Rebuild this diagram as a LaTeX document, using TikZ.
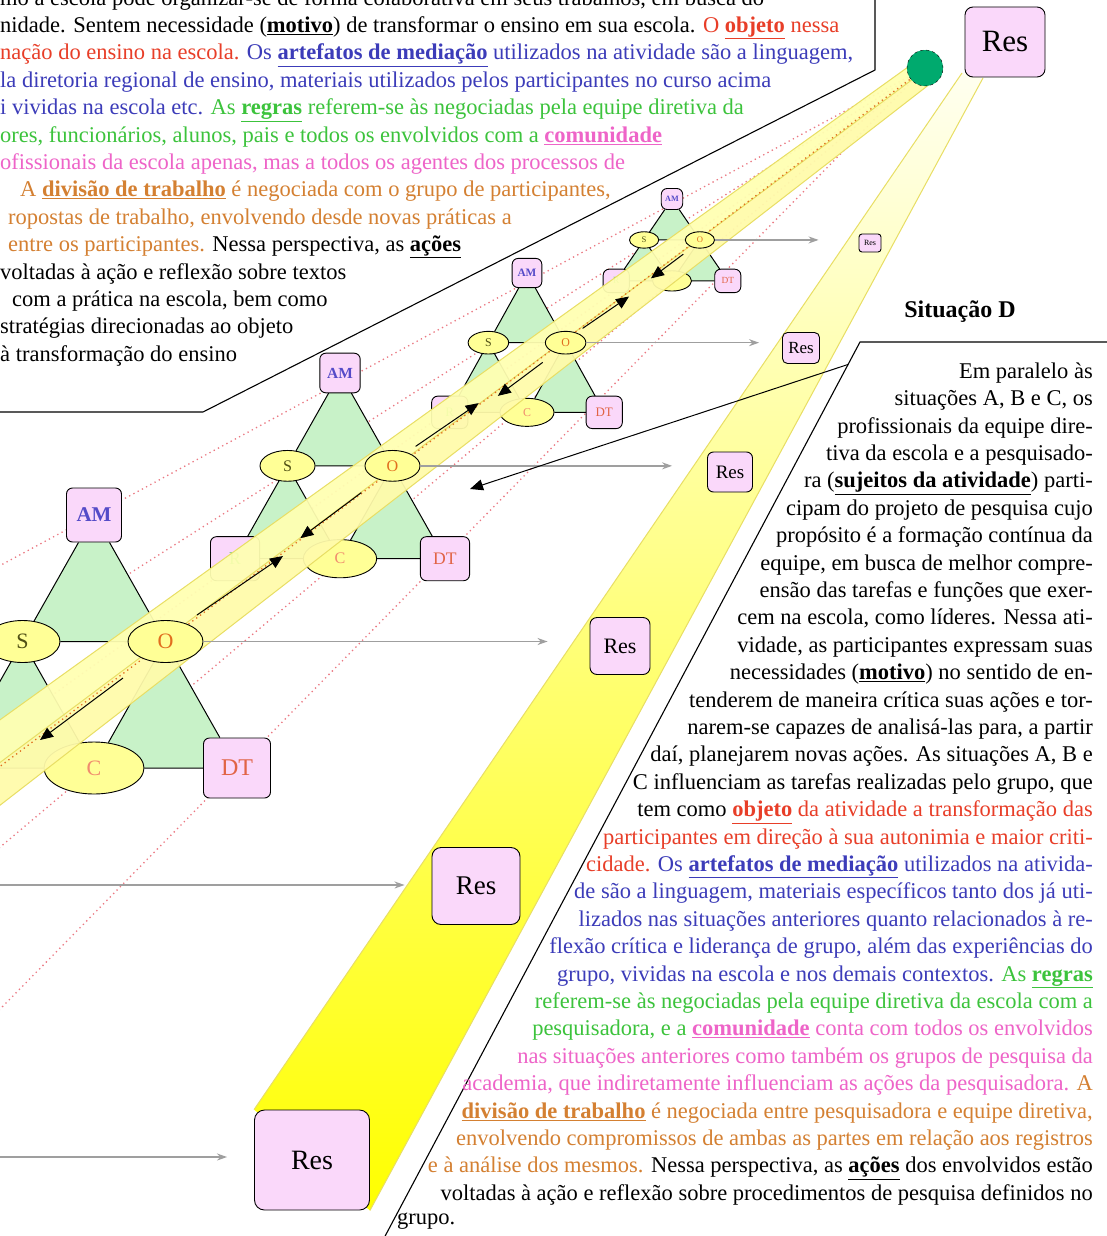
\documentclass[tikz,border=0pt]{standalone}
\usepackage{fontspec}
\setmainfont{Liberation Serif}
\usetikzlibrary{calc,positioning,arrows.meta,shapes.geometric}

\definecolor{resfill}{RGB}{250,216,250}
\definecolor{ovalfill}{RGB}{255,255,150}
\definecolor{triangfill}{RGB}{200,242,200}
\definecolor{beamfill}{RGB}{255,255,178}
\definecolor{beamedge}{RGB}{232,222,100}
\definecolor{eyefill}{RGB}{0,170,110}
\definecolor{perspred}{RGB}{235,120,130}
\definecolor{txtred}{RGB}{232,62,40}
\definecolor{txtblue}{RGB}{60,60,185}
\definecolor{txtgreen}{RGB}{60,195,60}
\definecolor{txtpink}{RGB}{238,100,200}
\definecolor{txtorange}{RGB}{212,128,50}
\definecolor{amblue}{RGB}{85,75,200}
\definecolor{sdark}{RGB}{80,80,20}
\definecolor{oorange}{RGB}{225,110,30}
\definecolor{csalmon}{RGB}{240,140,110}
\definecolor{dtred}{RGB}{225,100,70}

\pgfdeclarelayer{back}
\pgfdeclarelayer{fillz}
\pgfdeclarelayer{lines}
\pgfdeclarelayer{beam}
\pgfdeclarelayer{front}
\pgfsetlayers{back,fillz,lines,main,beam,front}

\newcommand{\kw}[1]{\underline{\textbf{#1}}}
\newcommand{\fsz}[2]{\fontsize{#1}{#2}\selectfont}

\begin{document}
\begin{tikzpicture}[x=1pt,y=-1pt,>=Latex]
\tikzset{
  txt/.style={inner sep=0pt, font={\fsz{22.5}{27.4}}},
  resbox/.style={draw, fill=resfill, line width=0.9pt, inner sep=0pt, rounded corners=#1},
  resbox/.default=7pt,
  amcell/.style={draw, fill=resfill, line width=0.9pt, rounded corners=6pt, minimum width=55pt, minimum height=54pt, inner sep=0pt, text=amblue, font={\fsz{21}{21}\bfseries}},
  cornercell/.style={draw, fill=resfill, line width=0.9pt, rounded corners=6pt, minimum width=67pt, minimum height=60pt, inner sep=0pt, font={\fsz{24}{24}}},
  oval/.style={ellipse, draw, fill=ovalfill, line width=0.9pt, minimum width=75pt, minimum height=42pt, inner sep=0pt, font={\fsz{22}{22}}},
  link/.style={line width=1pt},
  persp/.style={perspred, line width=1.3pt, dash pattern=on 1.3pt off 3.5pt},
  flow/.style={line width=1pt, -{Triangle[length=13pt,width=11pt]}},
  resarrow/.style={gray!75, line width=1.3pt, -{Stealth[length=10pt,width=7pt]}},
  boxline/.style={line width=1.1pt},
  beamside/.style={beamedge, line width=1pt}
}
\useasboundingbox (0,0) rectangle (1106,1236);

% results along the long beam
\node[resbox=8pt, minimum width=80pt, minimum height=70pt, font={\fsz{31}{31}}] (ResTop) at (1005,42) {Res};
\node[resbox=3pt, minimum width=22pt, minimum height=18pt, font={\fsz{8}{8}}] (Res4) at (870,243) {Res};
\node[resbox=5pt, minimum width=37pt, minimum height=31pt, font={\fsz{17}{17}}] (Res3) at (801,348) {Res};
\node[resbox=6pt, minimum width=45pt, minimum height=40pt, font={\fsz{19}{19}}] (Res2) at (730,472) {Res};
\node[resbox, minimum width=60pt, minimum height=57pt, font={\fsz{22}{22}}] (Res1) at (620,646) {Res};
\node[resbox=9pt, minimum width=88pt, minimum height=77pt, font={\fsz{27}{27}}] (Res0) at (476,886) {Res};
\node[resbox=10pt, minimum width=115pt, minimum height=100pt, font={\fsz{28}{28}}] (ResB) at (312,1160) {Res};

\begin{pgfonlayer}{front}
  \node[circle, draw, dashed, fill=eyefill, minimum size=36pt, inner sep=0pt] (eye) at (925,68) {};
\end{pgfonlayer}

% the activity systems, smaller as they go back
\foreach \n/\x/\y/\s/\k in {1/94/515/1/1, 2/340/373/0.734/1, 3/527/273/0.54/1.02, 4/672/199/0.39/0.83}{
  \begin{scope}[shift={(\x,\y)}, scale=\s, transform shape]
    \node[amcell] (AM\n) at (0,0) {AM};
    \node[oval, text=sdark] (S\n) at (-71.5,126.5*\k) {S};
    \node[cornercell, text=txtgreen] (R\n) at (-143,253*\k) {R};
    \node[oval, minimum width=100pt, minimum height=52pt, text=csalmon] (C\n) at (0,253*\k) {C};
    \node[cornercell, text=dtred] (DT\n) at (143,253*\k) {DT};
    \begin{pgfonlayer}{front}
      \node[oval, text=oorange] (O\n) at (71.5,126.5*\k) {O};
    \end{pgfonlayer}
    \coordinate (ua\n) at (103,126.5*\k-26.5);
    \coordinate (ub\n) at (189,126.5*\k-85.5);
    \coordinate (da\n) at (29,126.5*\k+36.5);
    \coordinate (db\n) at (-54,126.5*\k+98.5);
  \end{scope}
  \begin{pgfonlayer}{fillz}
    \fill[triangfill] (AM\n.center) -- (S\n.center) -- (O\n.center) -- cycle
      (S\n.center) -- (R\n.center) -- (C\n.center) -- cycle
      (O\n.center) -- (C\n.center) -- (DT\n.center) -- cycle;
  \end{pgfonlayer}
  \begin{pgfonlayer}{lines}
    \draw[link] (AM\n) -- (S\n) -- (O\n) -- (AM\n)
      (S\n) -- (R\n) -- (C\n) -- (S\n)
      (O\n) -- (C\n) -- (DT\n) -- (O\n);
  \end{pgfonlayer}
}

\begin{pgfonlayer}{back}
  \fill[white] (0,0) rectangle (1106,1236);
  % beam of results
  \coordinate (bL) at (962,73);
  \coordinate (bR) at (983,78);
  \shade[top color=yellow!6, middle color=yellow!28, bottom color=yellow] (bL) -- (bR) -- (ResB.south east) -- (ResB.north west) -- cycle;
  \draw[beamside] (bL) -- (ResB.north west) (bR) -- (ResB.south east);
  % perspective lines
  \draw[persp] (eye.center) -- ($(eye.center)!1.12!(AM1.center)$);
  \draw[persp] (eye.center) -- ($(eye.center)!1.03!(S1.center)$);
  \draw[persp] (eye.center) -- (R1.center);
  \draw[persp] (eye.center) -- ($(eye.center)!1.12!(C1.center)$);
  \draw[persp] (eye.center) -- ($(eye.center)!1.35!(DT1.center)$);
\end{pgfonlayer}

\begin{pgfonlayer}{beam}
  \coordinate (b2a) at (915,62);
  \coordinate (b2m) at (925,70);
  \coordinate (b2b) at (935,80);
  \coordinate (b2c) at (-10,813);
  \coordinate (b2n) at (-10,770);
  \coordinate (b2d) at (-10,727);
  \fill[beamfill, opacity=0.94] (b2a) -- (b2m) -- (b2n) -- (b2d) -- cycle;
  \fill[yellow!33, opacity=0.94] (b2m) -- (b2b) -- (b2c) -- (b2n) -- cycle;
  \draw[beamside] (b2a) -- (b2d) (b2m) -- (b2n) (b2b) -- (b2c);
  \draw[persp, oorange] (eye.center) -- ($(eye.center)!1.225!(O1.center)$);
\end{pgfonlayer}

\begin{pgfonlayer}{front}
  \foreach \n in {1,2,3} \draw[flow] (ua\n) -- (ub\n);
  \foreach \n in {1,...,4} \draw[flow] (da\n) -- (db\n);
  \foreach \o/\r/\g in {O1/Res1/42, O2/Res2/35, O3/Res3/23, O4/Res4/40}
    \draw[resarrow, shorten >=\g pt] (\o.east) -- (\o.east -| \r.west);
  \coordinate (from0) at (-5,885);
  \coordinate (fromB) at (-5,1157);
  \draw[resarrow, shorten >=27pt] (from0) -- (from0 -| Res0.west);
  \draw[resarrow, shorten >=27pt] (fromB) -- (fromB -| ResB.west);
\end{pgfonlayer}

% situations A, B and C
\draw[boxline] (875,-5) -- (875,70) -- (203,412) -- (-5,412);
\node[txt, anchor=north west, align=left] (ctxABC) at (0,-11) {%
mo a escola pode organizar-se de forma colaborativa em seus trabalhos, em busca do\\
nidade. Sentem necessidade (\kw{motivo}) de transformar o ensino em sua escola. \textcolor{txtred}{O \kw{objeto} nessa}\\
\textcolor{txtred}{nação do ensino na escola.} \textcolor{txtblue}{Os \kw{artefatos de mediação} utilizados na atividade são a linguagem,}\\
\textcolor{txtblue}{la diretoria regional de ensino, materiais utilizados pelos participantes no curso acima}\\
\textcolor{txtblue}{i vividas na escola etc.} \textcolor{txtgreen}{As \kw{regras} referem-se às negociadas pela equipe diretiva da}\\
\textcolor{txtgreen}{ores, funcionários, alunos, pais e todos os envolvidos com a} \textcolor{txtpink}{\kw{comunidade}}\\
\textcolor{txtpink}{ofissionais da escola apenas, mas a todos os agentes dos processos de}\\
\hspace*{20pt}\textcolor{txtorange}{A \kw{divisão de trabalho} é negociada com o grupo de participantes,}\\
\hspace*{8pt}\textcolor{txtorange}{ropostas de trabalho, envolvendo desde novas práticas a}\\
\hspace*{8pt}\textcolor{txtorange}{entre os participantes.} Nessa perspectiva, as \kw{ações}\\
voltadas à ação e reflexão sobre textos\\
\hspace*{12pt}com a prática na escola, bem como\\
stratégias direcionadas ao objeto\\
à transformação do ensino};

% situation D
\node[font={\fsz{24}{24}\bfseries}] (titleD) at (960,312) {Situação D};
\coordinate (Dtop) at (860,342);
\coordinate (Dfoot) at (383,1240);
\draw[boxline] (1115,342) -- (Dtop) -- (Dfoot);
\coordinate (Dlink) at ($(Dtop)!0.025!(Dfoot)$);
\coordinate (Dhit) at (470,489);
\begin{pgfonlayer}{front}
  \draw[flow] (Dlink) -- (Dhit);
\end{pgfonlayer}
\node[txt, anchor=north east, align=right] (textD) at (1093,362.5) {%
Em paralelo às\\
situações A, B e C, os\\
profissionais da equipe dire-\\
tiva da escola e a pesquisado-\\
ra (\kw{sujeitos da atividade}) parti-\\
cipam do projeto de pesquisa cujo\\
propósito é a formação contínua da\\
equipe, em busca de melhor compre-\\
ensão das tarefas e funções que exer-\\
cem na escola, como líderes. Nessa ati-\\
vidade, as participantes expressam suas\\
necessidades (\kw{motivo}) no sentido de en-\\
tenderem de maneira crítica suas ações e tor-\\
narem-se capazes de analisá-las para, a partir\\
daí, planejarem novas ações. As situações A, B e\\
C influenciam as tarefas realizadas pelo grupo, que\\
tem como \textcolor{txtred}{\kw{objeto} da atividade a transformação das}\\
\textcolor{txtred}{participantes em direção à sua autonimia e maior criti-}\\
\textcolor{txtred}{cidade.} \textcolor{txtblue}{Os \kw{artefatos de mediação} utilizados na ativida-}\\
\textcolor{txtblue}{de são a linguagem, materiais específicos tanto dos já uti-}\\
\textcolor{txtblue}{lizados nas situações anteriores quanto relacionados à re-}\\
\textcolor{txtblue}{flexão crítica e liderança de grupo, além das experiências do}\\
\textcolor{txtblue}{grupo, vividas na escola e nos demais contextos.} \textcolor{txtgreen}{As \kw{regras}}\\
\textcolor{txtgreen}{referem-se às negociadas pela equipe diretiva da escola com a}\\
\textcolor{txtgreen}{pesquisadora, e a} \textcolor{txtpink}{\kw{comunidade} conta com todos os envolvidos}\\
\textcolor{txtpink}{nas situações anteriores como também os grupos de pesquisa da}\\
\textcolor{txtpink}{academia, que indiretamente influenciam as ações da pesquisadora.} \textcolor{txtorange}{A}\\
\textcolor{txtorange}{\kw{divisão de trabalho} é negociada entre pesquisadora e equipe diretiva,}\\
\textcolor{txtorange}{envolvendo compromissos de ambas as partes em relação aos registros}\\
\textcolor{txtorange}{e à análise dos mesmos.} Nessa perspectiva, as \kw{ações} dos envolvidos estão\\
voltadas à ação e reflexão sobre procedimentos de pesquisa definidos no};
\node[txt, anchor=base west] (textDend) at (397,1224) {grupo.};
\end{tikzpicture}
\end{document}
